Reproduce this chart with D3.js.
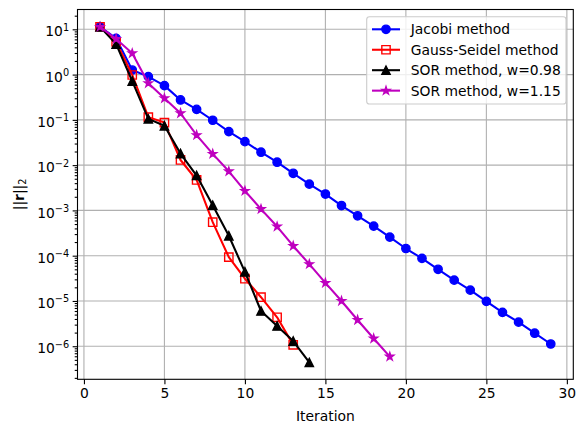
<!DOCTYPE html>
<html>
<head>
<meta charset="utf-8">
<script src="https://cdn.jsdelivr.net/npm/d3@7"></script>
<style>
  body { margin: 0; background: #fff; }
  svg { display: block; }
  text { font-family: "DejaVu Sans", sans-serif; fill: #000; }
</style>
</head>
<body>
<svg id="chart" width="585" height="432"></svg>
<script>
// residual norm per iteration
var jacobi = [11.4, 6.3, 1.26, 0.9, 0.57, 0.275, 0.171, 0.098, 0.055, 0.033,
	0.0193, 0.0116, 0.0066, 0.0038, 0.0023, 0.00128, 7.6e-4, 4.5e-4, 2.57e-4, 1.44e-4,
	8.7e-5, 5.0e-5, 2.88e-5, 1.73e-5, 9.8e-6, 5.6e-6, 3.4e-6, 1.94e-6, 1.12e-6];
var gaussSeidel = [11.4, 5.3, 0.98, 0.115, 0.087, 0.013, 0.0047, 5.5e-4, 9.3e-5, 3.1e-5,
	1.21e-5, 4.35e-6, 1.07e-6];
var sor098 = [11.3, 4.7, 0.72, 0.105, 0.074, 0.018, 0.0059, 0.0013, 2.75e-4, 4.4e-5,
	6.0e-6, 2.8e-6, 1.3e-6, 4.4e-7];
var sor115 = [11.3, 6.1, 2.95, 0.645, 0.30, 0.14, 0.046, 0.0177, 0.0073, 0.0027,
	0.00107, 4.4e-4, 1.64e-4, 6.5e-5, 2.5e-5, 1.0e-5, 3.8e-6, 1.48e-6, 5.9e-7];

var seriesNames = ['Jacobi method', 'Gauss-Seidel method', 'SOR method, w=0.98', 'SOR method, w=1.15'];
var xTicks = [0, 5, 10, 15, 20, 25, 30];
var yTicks = [1e-6, 1e-5, 1e-4, 1e-3, 1e-2, 1e-1, 1, 10];
var yExponents = [-6, -5, -4, -3, -2, -1, 0, 1];

var series = [
	{name: seriesNames[0], values: jacobi, color: '#0000ff', marker: 'circle'},
	{name: seriesNames[1], values: gaussSeidel, color: '#ff0000', marker: 'square'},
	{name: seriesNames[2], values: sor098, color: '#000000', marker: 'triangle'},
	{name: seriesNames[3], values: sor115, color: '#bf00bf', marker: 'star'}];

var svg = d3.select('#chart');
var plotL = 77.5, plotR = 573.3, plotT = 9.5, plotB = 379.3;
var fontSize = 13.89;
var ms = 8.33; // marker size in px

var x = d3.scaleLinear().domain([-0.4, 30.4]).range([plotL, plotR]);
var y = d3.scaleLog().domain([1.86e-7, 27.4]).range([plotB, plotT]);

svg.append('defs').append('clipPath').attr('id', 'plotclip')
	.append('rect').attr('x', plotL).attr('y', plotT)
	.attr('width', plotR - plotL).attr('height', plotB - plotT);

// grid
var grid = svg.append('g');
grid.selectAll('.gx').data(xTicks).enter().append('line')
	.attr('x1', function(d) {return x(d);}).attr('x2', function(d) {return x(d);})
	.attr('y1', plotT).attr('y2', plotB)
	.attr('stroke', '#b0b0b0').attr('stroke-width', 1.1);
grid.selectAll('.gy').data(yTicks).enter().append('line')
	.attr('x1', plotL).attr('x2', plotR)
	.attr('y1', function(d) {return y(d);}).attr('y2', function(d) {return y(d);})
	.attr('stroke', '#b0b0b0').attr('stroke-width', 1.1);

function markerPath(type) {
	var r = ms / 2, p;
	if ('circle' === type) {
		return d3.symbol().type(d3.symbolCircle).size(Math.PI * r * r)();}
	if ('square' === type) {
		return 'M' + (-r) + ',' + (-r) + 'H' + r + 'V' + r + 'H' + (-r) + 'Z';}
	if ('triangle' === type) {
		return 'M0,' + (-r) + 'L' + r + ',' + r + 'L' + (-r) + ',' + r + 'Z';}
	p = d3.path();
	for (var i = 0; i < 10; i++) {
		var rad = (i % 2 === 0) ? r : r * 0.381966;
		var a = -Math.PI / 2 + i * Math.PI / 5;
		if (i === 0) {p.moveTo(rad * Math.cos(a), rad * Math.sin(a));}
		else {p.lineTo(rad * Math.cos(a), rad * Math.sin(a));}}
	p.closePath();
	return p.toString();
}

var plot = svg.append('g').attr('clip-path', 'url(#plotclip)');
var line = d3.line()
	.x(function(d, i) {return x(i + 1);})
	.y(function(d) {return y(d);});

series.forEach(function(s) {
	var g = plot.append('g');
	g.append('path').datum(s.values)
		.attr('d', line)
		.attr('fill', 'none')
		.attr('stroke', s.color)
		.attr('stroke-width', 2.08)
		.attr('stroke-linejoin', 'round');
	g.selectAll('.m').data(s.values).enter().append('path')
		.attr('transform', function(d, i) {return 'translate(' + x(i + 1) + ',' + y(d) + ')';})
		.attr('d', markerPath(s.marker))
		.attr('fill', 'square' === s.marker ? 'none' : s.color)
		.attr('stroke', s.color)
		.attr('stroke-width', 1.39);
});

// axes
var tickLen = 4.86;
var xAxis = svg.append('g').attr('transform', 'translate(0,' + plotB + ')')
	.call(d3.axisBottom(x).tickValues(xTicks).tickSize(tickLen).tickPadding(3.5)
		.tickFormat(d3.format('d')));
xAxis.select('.domain').remove();
xAxis.selectAll('text').attr('font-size', fontSize).attr('dy', '0.78em')
	.attr('font-family', '"DejaVu Sans", sans-serif');

// minor ticks on the log axis
var minor = [];
for (var e = -7; e <= 1; e++) {
	for (var k = 2; k <= 9; k++) {
		var v = k * Math.pow(10, e);
		if (v >= y.domain()[0] && v <= y.domain()[1]) {minor.push(v);}}}

var yAxis = svg.append('g').attr('transform', 'translate(' + plotL + ',0)');
yAxis.call(d3.axisLeft(y).tickValues(minor).tickSize(2.78).tickFormat(''));
yAxis.select('.domain').remove();
var yMajor = svg.append('g').attr('transform', 'translate(' + plotL + ',0)')
	.call(d3.axisLeft(y).tickValues(yTicks).tickSize(tickLen).tickPadding(3.5)
		.tickFormat(function() {return '';}));
yMajor.select('.domain').remove();
yMajor.selectAll('.tick text').each(function(d, i) {
	var t = d3.select(this);
	t.attr('font-size', fontSize).attr('dy', 6.6)
		.attr('font-family', '"DejaVu Sans", sans-serif').text(null);
	t.append('tspan').text('10');
	t.append('tspan').attr('font-size', fontSize * 0.7).attr('dy', -5.6)
		.text(String(yExponents[i]).replace('-', '\u2212'));
});
svg.selectAll('.tick line').attr('stroke-width', 1.1);

// frame
svg.append('rect').attr('x', plotL).attr('y', plotT)
	.attr('width', plotR - plotL).attr('height', plotB - plotT)
	.attr('fill', 'none').attr('stroke', '#000').attr('stroke-width', 1.1);

// labels
svg.append('text').attr('x', (plotL + plotR) / 2).attr('y', 421)
	.attr('text-anchor', 'middle').attr('font-size', fontSize).text('Iteration');

var ylab = svg.append('text')
	.attr('transform', 'translate(23.5,' + ((plotT + plotB) / 2) + ') rotate(-90)')
	.attr('text-anchor', 'middle').attr('font-size', fontSize);
ylab.append('tspan').text('||');
ylab.append('tspan').attr('font-weight', 'bold').text('r');
ylab.append('tspan').text('||');
ylab.append('tspan').attr('font-size', fontSize * 0.7).attr('dy', 2.5).text('2');

// legend
var lx = 366.7, ly = 16.7, lw = 199.3, lh = 87.3, rowH = 20.45;
var legend = svg.append('g');
legend.append('rect').attr('x', lx).attr('y', ly).attr('width', lw).attr('height', lh)
	.attr('rx', 2.8).attr('fill', '#fff').attr('fill-opacity', 0.8)
	.attr('stroke', '#cccccc').attr('stroke-width', 1.1);
var rows = legend.selectAll('.row').data(series).enter().append('g')
	.attr('transform', function(d, i) {return 'translate(0,' + (29.3 + i * rowH) + ')';});
rows.append('line').attr('x1', 372).attr('x2', 400)
	.attr('stroke', function(d) {return d.color;}).attr('stroke-width', 2.08);
rows.append('path').attr('transform', 'translate(386,0)')
	.attr('d', function(d) {return markerPath(d.marker);})
	.attr('fill', function(d) {return 'square' === d.marker ? 'none' : d.color;})
	.attr('stroke', function(d) {return d.color;}).attr('stroke-width', 1.39);
rows.append('text').attr('x', 410.7).attr('y', 5).attr('font-size', fontSize)
	.text(function(d) {return d.name;});
</script>
</body>
</html>
